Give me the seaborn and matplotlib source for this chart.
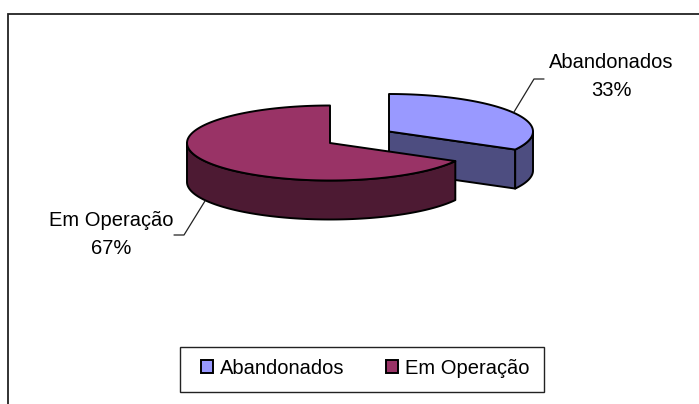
import numpy as np
import matplotlib
matplotlib.use('Agg')
import matplotlib.pyplot as plt
from matplotlib.patches import Patch, Polygon, Rectangle
import seaborn as sns

# Chart values
categories = ['Abandonados', 'Em Operação']
shares = [33, 67]
top_colors = ['#9999FF', '#993366']
side_colors = ['#4D4D80', '#4D1A33']

sns.set_theme(style='white')
plt.rcParams['font.family'] = ['Liberation Sans', 'DejaVu Sans']
FS = 14.5
LW = 1.4

fig = plt.figure(figsize=(6.99, 4.04), dpi=100)
ax = fig.add_axes([0, 0, 1, 1])
ax.set_xlim(0, 699)
ax.set_ylim(404, 0)
ax.axis('off')

# chart area border, only top and left are in the picture
ax.plot([8, 8, 699], [404, 13.5, 13.5], color='#222222', lw=1.3, solid_joinstyle='miter')

# slice geometry in pixels: centre of the top face
centres = [(389, 131.5), (330, 143)]
radii = [144, 143]
ry, depth = 37.5, 39


def rim(i, a0, a1):
    # angles clockwise from 12 o'clock, in degrees
    cx, cy = centres[i]
    t = np.radians(np.linspace(a0, a1, 120))
    return np.column_stack([cx + radii[i] * np.sin(t), cy - ry * np.cos(t)])


def draw_slice(i, a0, a1):
    cx, cy = centres[i]
    top = rim(i, a0, a1)
    down = np.array([0, depth])
    kw = dict(edgecolor='black', lw=LW, joinstyle='round')
    if i == 0:
        # cut face, then the part of the outer wall that can be seen
        corner = top[-1]
        ax.add_patch(Polygon([(cx, cy), corner, corner + down, (cx, cy + depth)],
                             facecolor=side_colors[i], **kw))
    wall = rim(i, max(a0, 90), min(a1, 270))
    ax.add_patch(Polygon(np.vstack([wall, (wall + down)[::-1]]), facecolor=side_colors[i], **kw))
    ax.add_patch(Polygon(np.vstack([[(cx, cy)], top]), facecolor=top_colors[i], **kw))


sweeps = np.array(shares) / sum(shares) * 360
draw_slice(0, 0, sweeps[0])
draw_slice(1, sweeps[0], 360)

# data labels with leader lines
ax.plot([514, 534, 544], [112, 79, 79], color='#222222', lw=0.9)
ax.plot([205, 184, 174], [201, 235, 235], color='#222222', lw=0.9)
ax.text(611, 62, categories[0], ha='center', va='center', fontsize=FS, color='black')
ax.text(611, 91, f'{shares[0]}%', ha='center', va='center', fontsize=FS, color='black')
ax.text(111, 220, categories[1], ha='center', va='center', fontsize=FS, color='black')
ax.text(111, 248, f'{shares[1]}%', ha='center', va='center', fontsize=FS, color='black')

# legend box
ax.add_patch(Rectangle((179.5, 347), 364.5, 45, fill=False, edgecolor='#222222', lw=1.0))
handles = [Patch(facecolor=c, edgecolor='black', lw=LW, label=n) for c, n in zip(top_colors, categories)]
ax.legend(handles=handles, ncols=2, frameon=False, loc='center', fontsize=FS,
          bbox_to_anchor=(365, 368), bbox_transform=ax.transData,
          handlelength=0.6, handleheight=0.6, handletextpad=0.35, columnspacing=2.04,
          labelcolor='black')

fig.savefig('out.png', dpi=100, facecolor='white')
